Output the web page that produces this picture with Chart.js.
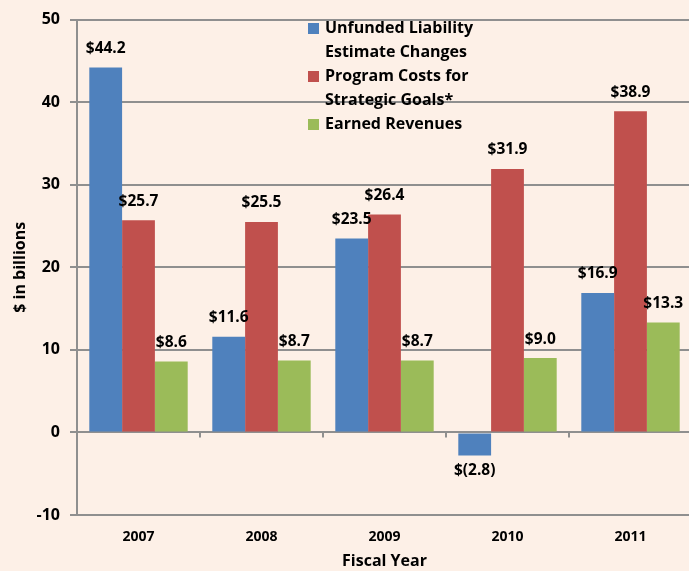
<!DOCTYPE html>
<html>
<head>
<meta charset="utf-8">
<script src="https://cdn.jsdelivr.net/npm/chart.js@4.4.0/dist/chart.umd.min.js"></script>
<style>
html, body { margin: 0; padding: 0; background: #fdf0e7; overflow: hidden; }
#wrap { position: relative; width: 692px; height: 571px; }
</style>
</head>
<body>
<div id="wrap"><canvas id="chart" width="692" height="571"></canvas></div>
<script>
const years = ['2007', '2008', '2009', '2010', '2011'];
const unfundedLiability = [44.2, 11.6, 23.5, -2.8, 16.9];
const programCosts = [25.7, 25.5, 26.4, 31.9, 38.9];
const earnedRevenues = [8.6, 8.7, 8.7, 9.0, 13.3];
const seriesNames = ['Unfunded Liability\nEstimate Changes', 'Program Costs for\nStrategic Goals*', 'Earned Revenues'];
const yMin = -10, yMax = 50, yStep = 10;

const FONT = '"Open Sans"';
const GRAY = '#8f8f8f';

function money(v) {
    return v < 0 ? '$(' + Math.abs(v).toFixed(1) + ')' : '$' + v.toFixed(1);
}

// value labels over / under each bar
const barLabels = {
    id: 'barLabels',
    afterDatasetsDraw(chart) {
        const ctx = chart.ctx;
        ctx.save();
        ctx.font = 'bold 15.5px ' + FONT;
        ctx.fillStyle = '#000';
        ctx.textAlign = 'center';
        ctx.textBaseline = 'middle';
        chart.data.datasets.forEach((ds, i) => {
            chart.getDatasetMeta(i).data.forEach((bar, j) => {
                const v = ds.data[j];
                const y = v < 0 ? bar.y + 15 : bar.y - 19;
                ctx.fillText(money(v), bar.x, y);
            });
        });
        ctx.restore();
    }
};

// small category ticks hanging off the zero line
const zeroTicks = {
    id: 'zeroTicks',
    afterDatasetsDraw(chart) {
        const x = chart.scales.x, y = chart.scales.y;
        const y0 = y.getPixelForValue(0);
        const ctx = chart.ctx;
        ctx.save();
        ctx.strokeStyle = GRAY;
        ctx.lineWidth = 2;
        for (let i = 1; i < years.length; i++) {
            const px = Math.round((x.getPixelForTick(i - 1) + x.getPixelForTick(i)) / 2);
            ctx.beginPath();
            ctx.moveTo(px, y0);
            ctx.lineTo(px, y0 + 5);
            ctx.stroke();
        }
        ctx.restore();
    }
};

// legend drawn inside the plot, with two-line labels
const insideLegend = {
    id: 'insideLegend',
    afterDatasetsDraw(chart) {
        const ctx = chart.ctx;
        ctx.save();
        ctx.font = 'bold 16px ' + FONT;
        ctx.textAlign = 'left';
        ctx.textBaseline = 'middle';
        let y = 28;
        chart.data.datasets.forEach(ds => {
            ctx.fillStyle = ds.backgroundColor;
            ctx.fillRect(308, y - 5, 11, 11);
            ctx.fillStyle = '#000';
            ds.label.split('\n').forEach(line => {
                ctx.fillText(line, 325, y);
                y += 24;
            });
        });
        ctx.restore();
    }
};

const ctx = document.getElementById('chart').getContext('2d');
const chart = new Chart(ctx, {
    type: 'bar',
    data: {
        labels: years,
        datasets: [
            { label: seriesNames[0], data: unfundedLiability, backgroundColor: '#4f81bd' },
            { label: seriesNames[1], data: programCosts, backgroundColor: '#c0504d' },
            { label: seriesNames[2], data: earnedRevenues, backgroundColor: '#9bbb59' }
        ]
    },
    options: {
        responsive: false,
        animation: false,
        devicePixelRatio: 1,
        layout: { padding: { top: 19, right: 0, left: 0, bottom: 0 } },
        datasets: { bar: { categoryPercentage: 0.8, barPercentage: 1.0 } },
        plugins: {
            legend: { display: false },
            tooltip: { enabled: false }
        },
        scales: {
            x: {
                grid: { display: false },
                border: { display: false },
                ticks: { color: '#000', font: { family: FONT, weight: 'bold', size: 14 }, padding: 6 },
                title: {
                    display: true, text: 'Fiscal Year', color: '#000',
                    font: { family: FONT, weight: 'bold', size: 16 }, padding: { top: 0, bottom: 0 }
                },
                afterFit: s => { s.height = 56; }
            },
            y: {
                min: yMin, max: yMax,
                ticks: { stepSize: yStep, color: '#000', font: { family: FONT, weight: 'bold', size: 16 }, padding: 10 },
                grid: { color: GRAY, lineWidth: 2, tickLength: 7 },
                border: { color: GRAY, width: 2 },
                title: {
                    display: true, text: '$ in billions', color: '#000',
                    font: { family: FONT, weight: 'bold', size: 16 }, padding: { top: 11, bottom: 0 }
                },
                afterFit: s => { s.width = 77; }
            }
        }
    },
    plugins: [zeroTicks, barLabels, insideLegend]
});
</script>
</body>
</html>
